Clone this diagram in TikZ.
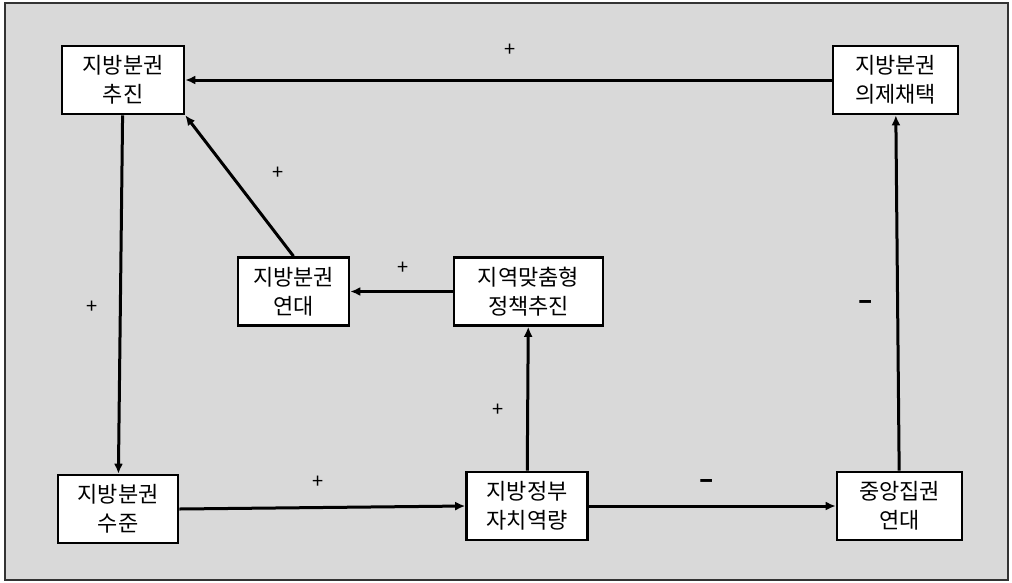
\documentclass[tikz,border=0pt]{standalone}
\usepackage{fontspec}
\setmainfont{Noto Sans CJK KR}
\usetikzlibrary{arrows.meta}
\definecolor{bgGray}{HTML}{D9D9D9}
\begin{document}
\begin{tikzpicture}[x=1pt, y=-1pt,
    box/.style={draw, line width=2.6pt, fill=white, align=center, minimum height=68pt,
        inner sep=2pt, font=\fontsize{22}{29}\selectfont},
    link/.style={line width=3pt, -{Latex[length=10pt,width=9pt]}},
    sign/.style={font=\fontsize{20}{22}\selectfont, inner sep=0pt}]
    \useasboundingbox (0,0) rectangle (1012,582);
    \filldraw[fill=bgGray, draw=black!80, line width=1.2pt] (5,3) rectangle (1008,580);

    % boxes
    \node[box, minimum width=122pt] (push)   at (123,80)    {지방분권\\추진};
    \node[box, minimum width=125pt] (agenda) at (895.5,80)  {지방분권\\의제채택};
    \node[box, minimum width=111pt] (allyL)  at (293.5,291.5) {지방분권\\연대};
    \node[box, minimum width=149pt] (policy) at (528.5,291.5) {지역맞춤형\\정책추진};
    \node[box, minimum width=120pt] (level)  at (118,509)   {지방분권\\수준};
    \node[box, minimum width=121pt] (cap)    at (527,506)   {지방정부\\자치역량};
    \node[box, minimum width=125pt] (allyC)  at (899.5,506) {중앙집권\\연대};

    % links
    \draw[link] (agenda) -- (push);
    \draw[link] (push) -- (level);
    \draw[link] (allyL.north) -- (push.south east);
    \draw[link] (policy) -- (allyL);
    \draw[link] (level.east) -- (cap.west);
    \draw[link] (cap) -- (policy);
    \draw[link] (cap) -- (allyC);
    \draw[link] (allyC) -- (agenda);

    % signs
    \node[sign] (s1) at (510,50)  {+};
    \node[sign] (s2) at (92,307)  {+};
    \node[sign] (s3) at (278,173) {+};
    \node[sign] (s4) at (403,268) {+};
    \node[sign] (s5) at (498,410) {+};
    \node[sign] (s6) at (318,482) {+};
    \node[sign, font=\fontsize{26}{26}\selectfont\bfseries] (s7) at (707,484) {–};
    \node[sign, font=\fontsize{26}{26}\selectfont\bfseries] (s8) at (866,305) {–};
\end{tikzpicture}
\end{document}
